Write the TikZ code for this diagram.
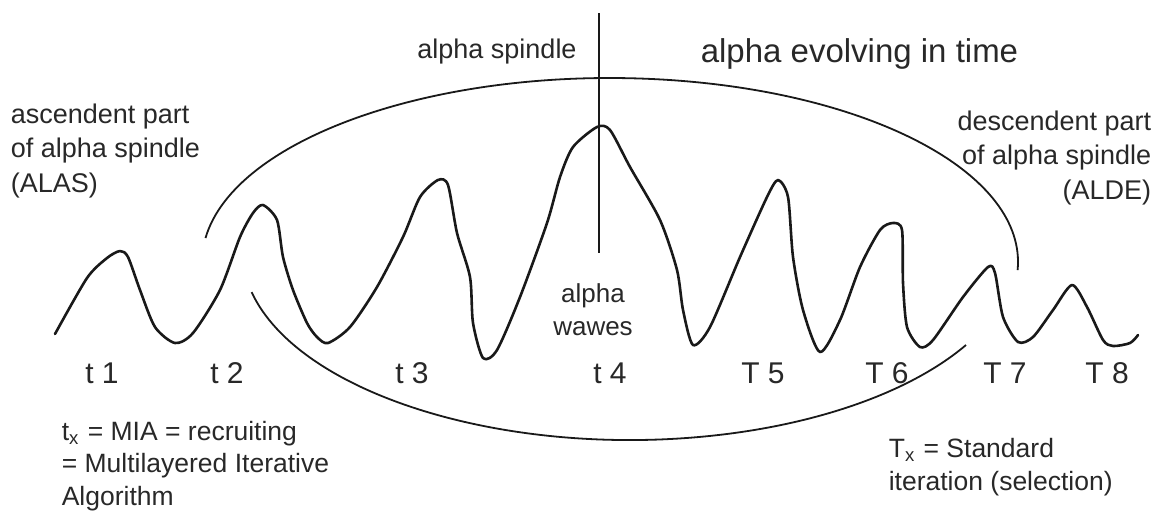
\documentclass[tikz,border=0pt]{standalone}
\usepackage{fontspec}
\setmainfont{Liberation Sans}
\definecolor{txtc}{RGB}{40,40,40}
\definecolor{linec}{RGB}{25,25,25}
\begin{document}
\begin{tikzpicture}[x=0.25pt,y=-0.25pt,
  lbl/.style={inner sep=0pt, text=txtc, font=\fontsize{6.75}{8.625}\selectfont},
  small/.style={inner sep=0pt, text=txtc, font=\fontsize{6.625}{8.125}\selectfont},
  tlbl/.style={inner sep=0pt, text=txtc, font=\fontsize{7.5}{9}\selectfont, anchor=base},
  wave/.style={draw=linec, line width=0.65pt, line join=round, line cap=round},
  arcline/.style={draw=linec, line width=0.45pt},
]
\useasboundingbox (0,0) rectangle (1162,516);

% spindle envelope (two arcs)
\coordinate (ua) at (205.5,238);
\draw[arcline] (ua) arc[start angle=187.5, end angle=362.5, x radius=408, y radius=184];
\coordinate (la) at (251.6,292.1);
\draw[arcline] (la) arc[start angle=167.2, end angle=30, x radius=388, y radius=190];

% alpha waves
\draw[wave]
  plot[smooth, tension=0.45] coordinates {
  (55,334) (87,278) (107,258) (120,251) (128,257) (140,290) (155,327) (175,343)
  (193,333) (220,290) (240,237) (253,213) (263,205) (277,220) (283,257) (293,290)
  (307,323) (317,337) (328,343) (350,327) (377,287) (403,237) (420,197) (438,180)
  (448,185) (457,233) (470,277) (473,323) (483,358) (497,350) (520,297) (547,223)
  (560,177) (573,147) (597,127) (610,130) (630,167) (660,220) (677,270) (683,310)
  (693,345) (710,327) (740,257) (767,197) (778,180) (788,197) (793,257) (803,310)
  (820,352) (840,320) (860,267) (880,230) (893,223) (902,230) (903,283) (907,327)
  (920,347) (933,340) (963,297) (988,267) (995,273) (1003,317) (1018,342) (1033,337)
  (1053,310) (1072,285) (1087,307) (1103,340) (1113,346) (1130,343) (1138,335)};

% vertical spindle marker
\coordinate (vt) at (599,13);
\coordinate (vb) at (599,253);
\draw[draw=linec, line width=0.65pt] (vt) -- (vb);

% titles
\node[lbl, anchor=base] (spindle) at (497,58) {alpha spindle};
\node[inner sep=0pt, text=txtc, font=\fontsize{8.25}{10}\selectfont, anchor=base west] (evol) at (700,62) {alpha evolving in time};

\node[lbl, anchor=base west, align=left] (alas) at (10,192) {ascendent part\\of alpha spindle\\(ALAS)};
\node[lbl, anchor=base east, align=right] (alde) at (1152,199) {descendent part\\of alpha spindle\\(ALDE)};

\node[inner sep=0pt, text=txtc, font=\fontsize{6.5}{8.125}\selectfont, anchor=base, align=center] (aw) at (593,335) {alpha\\wawes};

% time labels
\node[tlbl] (t1) at (102,383) {t 1};
\node[tlbl] (t2) at (227,383) {t 2};
\node[tlbl] (t3) at (412,383) {t 3};
\node[tlbl] (t4) at (610,383) {t 4};
\node[tlbl] (T5) at (763,383) {T 5};
\node[tlbl] (T6) at (887,383) {T 6};
\node[tlbl] (T7) at (1005,383) {T 7};
\node[tlbl] (T8) at (1107,383) {T 8};

% legends
\node[small, anchor=base west, align=left] (mia) at (61,505) {t\textsubscript{x} = MIA = recruiting\\= Multilayered Iterative\\Algorithm};
\node[small, anchor=base west, align=left] (std) at (888,490) {T\textsubscript{x} = Standard\\iteration (selection)};
\end{tikzpicture}
\end{document}
